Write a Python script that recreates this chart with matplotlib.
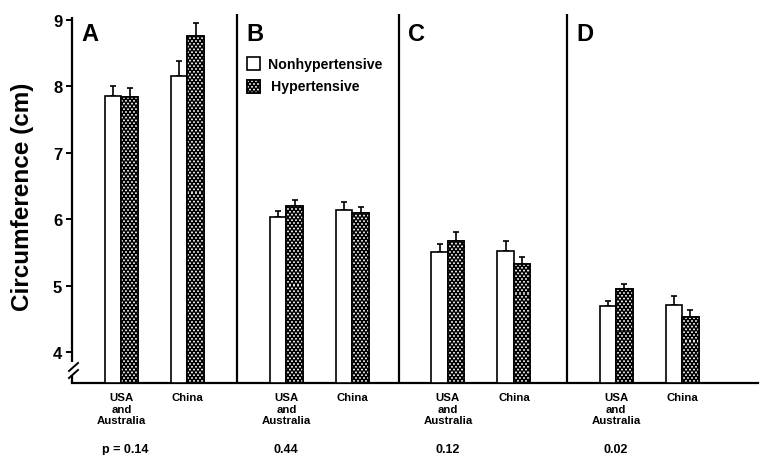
import matplotlib
matplotlib.use("Agg")
import numpy as np
import matplotlib.pyplot as plt
from matplotlib.patches import Rectangle
import matplotlib.transforms as mtransforms

plt.rcParams['font.family'] = ['Liberation Sans', 'DejaVu Sans']
plt.rcParams['font.weight'] = 'bold'

# ---- data -------------------------------------------------------------
panels = ["A", "B", "C", "D"]
groups = ["USA\nand\nAustralia", "China"]
p_values = ["p = 0.14", "0.44", "0.12", "0.02"]
series = ["Nonhypertensive", "Hypertensive"]

# mean circumference (cm) per panel: [USA and Australia, China]
nonhyp_mean = [[7.85, 8.16], [6.03, 6.14], [5.51, 5.52], [4.69, 4.71]]
nonhyp_err = [[0.15, 0.22], [0.09, 0.12], [0.12, 0.15], [0.08, 0.13]]
hyp_mean = [[7.84, 8.76], [6.20, 6.09], [5.67, 5.33], [4.95, 4.53]]
hyp_err = [[0.14, 0.19], [0.09, 0.09], [0.14, 0.10], [0.07, 0.10]]

yticks = [4, 5, 6, 7, 8, 9]

# ---- layout -----------------------------------------------------------
panel_start = [0, 10, 19.8, 30]
group_offset = [3, 7]
bar_w = 1.0
ymin, ymax = 3.533, 9.09
xmax = 41.6
AX_W, AX_H = 686, 369          # axes size in pixels

fig = plt.figure(figsize=(7.61, 4.56), dpi=100)
ax = fig.add_axes([72 / 761, 72 / 456, AX_W / 761, AX_H / 456])

# dotted fill: white dots on black, staggered lattice (pixel units)
yy, xx = np.mgrid[0:AX_H, 0:AX_W] + 0.5
dx, dy = 4.0, 2.8
best = np.full(xx.shape, 9.0)
j0 = np.round(yy / dy)
for dj in (-1, 0, 1):
    j = j0 + dj
    off = (j % 2) * dx / 2
    i = np.round((xx - off) / dx)
    d = np.hypot(xx - (i * dx + off), yy - j * dy)
    best = np.minimum(best, d)
dots = np.clip(1.4 - best, 0, 1)
dot_img = np.dstack([dots, dots, dots])


def dotted(clip_patch, z):
    im = ax.imshow(dot_img, extent=(0, xmax, ymin, ymax), origin='upper',
                   aspect='auto', interpolation='nearest', zorder=z)
    im.set_clip_path(clip_patch)


lw = 1.2
xt = []
for i in range(len(panels)):
    for j in range(len(groups)):
        c = panel_start[i] + group_offset[j]
        xt.append(c)
        # nonhypertensive: open bar
        ax.bar(c - bar_w / 2, nonhyp_mean[i][j] - ymin, bottom=ymin, width=bar_w,
               facecolor='white', edgecolor='black', linewidth=lw, zorder=3)
        ax.errorbar(c - bar_w / 2, nonhyp_mean[i][j], yerr=[[0], [nonhyp_err[i][j]]],
                    fmt='none', ecolor='black', elinewidth=1.2, capsize=2.3,
                    capthick=1.2, zorder=2)
        # hypertensive: dotted dark bar
        bars = ax.bar(c + bar_w / 2, hyp_mean[i][j] - ymin, bottom=ymin,
                      width=bar_w, facecolor='black', edgecolor='black',
                      linewidth=lw, zorder=3)
        dotted(bars[0], 3.5)
        ax.bar(c + bar_w / 2, hyp_mean[i][j] - ymin, bottom=ymin, width=bar_w,
               fill=False, edgecolor='black', linewidth=lw, zorder=4)
        ax.errorbar(c + bar_w / 2, hyp_mean[i][j], yerr=[[0], [hyp_err[i][j]]],
                    fmt='none', ecolor='black', elinewidth=1.2, capsize=2.3,
                    capthick=1.2, zorder=2)

ax.set_xlim(0, xmax)
ax.set_ylim(ymin, ymax)

# panel dividers and panel letters
for i, name in enumerate(panels):
    if i > 0:
        ax.axvline(panel_start[i], ymin=0, ymax=1, color='black', lw=1.6,
                   zorder=5)
    ax.text(panel_start[i] + 0.6, 8.79, name, fontsize=17, fontweight='bold',
            ha='left', va='center')

# x tick labels and p values
ax.set_xticks(xt)
ax.set_xticklabels(groups * len(panels), fontsize=8.2, linespacing=1.2)
ax.tick_params(axis='x', length=0, pad=6.5)
trans = mtransforms.blended_transform_factory(ax.transData, ax.transAxes)
for i, p in enumerate(p_values):
    ax.text(panel_start[i] + group_offset[0] + (0.25 if i == 0 else 0), -0.179, p,
            transform=trans, fontsize=9, ha='center', va='center')

# y axis with break
ax.set_yticks(yticks)
ax.set_yticklabels([str(t) for t in yticks], fontsize=12, fontweight='bold')
ax.tick_params(axis='y', direction='out', length=4, width=1.4, pad=3)
for s in ['top', 'right', 'left']:
    ax.spines[s].set_visible(False)
ax.spines['bottom'].set_linewidth(1.6)


def px2v(p):
    return 9 - (p - 21) / 66.4


def px2x(p):
    return (p - 72) / 16.5


ax.plot([0, 0], [px2v(363), px2v(18.5)], color='black', lw=1.6, clip_on=False,
        solid_capstyle='butt')
ax.plot([0, 0], [px2v(376), ymin], color='black', lw=1.6, clip_on=False,
        solid_capstyle='butt')
for y0 in (368, 375):
    ax.plot([px2x(69), px2x(78)], [px2v(y0 + 4), px2v(y0 - 4)], color='black',
            lw=1.4, clip_on=False)

# legend (drawn in axes pixel units)
def ax_px(px, py):
    return (px - 72) / AX_W, (384 - py) / AX_H


box = 13
for k, (label, py) in enumerate(zip(series, (58, 81))):
    x0, y0 = ax_px(247, py + box)
    w, h = box / AX_W, box / AX_H
    if k == 0:
        ax.add_patch(Rectangle((x0, y0), w, h, transform=ax.transAxes,
                               facecolor='white', edgecolor='black',
                               linewidth=lw, zorder=6))
    else:
        r = ax.add_patch(Rectangle((x0, y0), w, h, transform=ax.transAxes,
                                   facecolor='black', edgecolor='black',
                                   linewidth=lw, zorder=5))
        dotted(r, 5.5)
        ax.add_patch(Rectangle((x0, y0), w, h, transform=ax.transAxes,
                               fill=False, edgecolor='black', linewidth=lw,
                               zorder=6))
    tx, ty = ax_px(268 + 3 * k, py + box / 2)
    ax.text(tx, ty, label, transform=ax.transAxes, fontsize=10.2,
            fontweight='bold', ha='left', va='center')

fig.text(23 / 761, 1 - 197 / 456, "Circumference (cm)", rotation=90,
         fontsize=17.5, fontweight='bold', ha='center', va='center')

fig.savefig("out.png", dpi=100)
